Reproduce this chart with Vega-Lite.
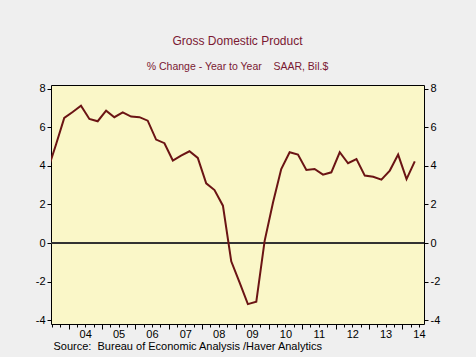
{
  "$schema": "https://vega.github.io/schema/vega-lite/v6.json",
  "autosize": "none",
  "width": 373,
  "height": 239,
  "padding": {"left": 51, "top": 85, "right": 52, "bottom": 33},
  "background": "#efefef",
  "config": {
    "view": {"fill": "#faf7c8", "stroke": "#000000", "strokeWidth": 1},
    "font": "Liberation Sans"
  },
  "title": {
    "text": "Gross Domestic Product",
    "subtitle": "% Change - Year to Year\u00a0\u00a0\u00a0\u00a0SAAR, Bil.$",
    "anchor": "middle",
    "color": "#7a1832",
    "subtitleColor": "#7a1832",
    "font": "Liberation Sans",
    "subtitleFont": "Liberation Sans",
    "fontSize": 12,
    "fontWeight": "normal",
    "subtitleFontSize": 10.5,
    "subtitleFontWeight": "normal",
    "subtitlePadding": 14,
    "offset": 9
  },
  "data": {
    "values": [
      {"date": "2003-05-16", "value": 3.75},
      {"date": "2003-08-16", "value": 5.1},
      {"date": "2003-11-15", "value": 6.49},
      {"date": "2004-02-15", "value": 6.8},
      {"date": "2004-05-16", "value": 7.13},
      {"date": "2004-08-16", "value": 6.44},
      {"date": "2004-11-15", "value": 6.32},
      {"date": "2005-02-15", "value": 6.87},
      {"date": "2005-05-16", "value": 6.53},
      {"date": "2005-08-16", "value": 6.78},
      {"date": "2005-11-15", "value": 6.56},
      {"date": "2006-02-15", "value": 6.53},
      {"date": "2006-05-16", "value": 6.35},
      {"date": "2006-08-16", "value": 5.37},
      {"date": "2006-11-15", "value": 5.18},
      {"date": "2007-02-15", "value": 4.28},
      {"date": "2007-05-16", "value": 4.54},
      {"date": "2007-08-16", "value": 4.76},
      {"date": "2007-11-15", "value": 4.42},
      {"date": "2008-02-15", "value": 3.1},
      {"date": "2008-05-16", "value": 2.75},
      {"date": "2008-08-16", "value": 1.94},
      {"date": "2008-11-15", "value": -0.95},
      {"date": "2009-02-15", "value": -2.05},
      {"date": "2009-05-16", "value": -3.17},
      {"date": "2009-08-16", "value": -3.05},
      {"date": "2009-11-15", "value": 0.1},
      {"date": "2010-02-15", "value": 2.1},
      {"date": "2010-05-16", "value": 3.84},
      {"date": "2010-08-16", "value": 4.71},
      {"date": "2010-11-15", "value": 4.59},
      {"date": "2011-02-15", "value": 3.79},
      {"date": "2011-05-16", "value": 3.84},
      {"date": "2011-08-16", "value": 3.55},
      {"date": "2011-11-15", "value": 3.67},
      {"date": "2012-02-15", "value": 4.71},
      {"date": "2012-05-16", "value": 4.14},
      {"date": "2012-08-16", "value": 4.36},
      {"date": "2012-11-15", "value": 3.5},
      {"date": "2013-02-15", "value": 3.44},
      {"date": "2013-05-16", "value": 3.29},
      {"date": "2013-08-16", "value": 3.76},
      {"date": "2013-11-15", "value": 4.59},
      {"date": "2014-02-15", "value": 3.32},
      {"date": "2014-05-16", "value": 4.24}
    ]
  },
  "layer": [
    {
      "mark": {"type": "rule", "color": "#333333", "strokeWidth": 0.7},
      "encoding": {
        "y": {
          "datum": 0,
          "type": "quantitative",
          "scale": {"domain": [-4.2, 8.2], "nice": false, "zero": false},
          "axis": {
            "orient": "right",
            "title": null,
            "values": [-4, -2, 0, 2, 4, 6, 8],
            "labelExpr": "datum.value + ''",
            "domain": false,
            "grid": false,
            "tickColor": "#000000",
            "tickSize": 4,
            "labelPadding": 2,
            "labelColor": "#000000",
            "labelFontSize": 11,
            "labelFont": "Liberation Sans"
          }
        }
      }
    },
    {
      "mark": {"type": "line", "color": "#6b1414", "strokeWidth": 2, "clip": true},
      "encoding": {
        "x": {
          "field": "date",
          "type": "temporal",
          "scale": {"domain": ["2003-06-23", "2014-08-25"], "nice": false},
          "axis": {
            "orient": "bottom",
            "title": "Source:\u00a0\u00a0Bureau of Economic Analysis /Haver Analytics",
            "titleFont": "Liberation Sans",
            "titleFontSize": 11,
            "titleFontWeight": "normal",
            "titleColor": "#000000",
            "titleAnchor": "start",
            "titleAlign": "left",
            "titleBaseline": "alphabetic",
            "titleX": 2,
            "titleY": 25,
            "domain": false,
            "grid": false,
            "values": ["2003-07-01","2003-10-01","2004-01-01","2004-04-01","2004-07-01","2004-10-01","2005-01-01","2005-04-01","2005-07-01","2005-10-01","2006-01-01","2006-04-01","2006-07-01","2006-10-01","2007-01-01","2007-04-01","2007-07-01","2007-10-01","2008-01-01","2008-04-01","2008-07-01","2008-10-01","2009-01-01","2009-04-01","2009-07-01","2009-10-01","2010-01-01","2010-04-01","2010-07-01","2010-10-01","2011-01-01","2011-04-01","2011-07-01","2011-10-01","2012-01-01","2012-04-01","2012-07-01","2012-10-01","2013-01-01","2013-04-01","2013-07-01","2013-10-01","2014-01-01","2014-04-01","2014-07-01"],
            "tickColor": "#000000",
            "tickSize": {"condition": {"test": "month(datum.value) == 0", "value": 5}, "value": 3},
            "labelExpr": "month(datum.value) == 6 && year(datum.value) >= 2004 ? timeFormat(datum.value, '%y') : ''",
            "labelFont": "Liberation Sans",
            "labelFontSize": 11,
            "labelColor": "#000000",
            "labelPadding": 1,
            "labelOverlap": false,
            "labelFlush": false
          }
        },
        "y": {
          "field": "value",
          "type": "quantitative",
          "scale": {"domain": [-4.2, 8.2], "nice": false, "zero": false},
          "axis": {
            "orient": "left",
            "title": null,
            "values": [-4, -2, 0, 2, 4, 6, 8],
            "labelExpr": "datum.value + ''",
            "domain": false,
            "grid": false,
            "tickColor": "#000000",
            "tickSize": 4,
            "labelPadding": 2,
            "labelColor": "#000000",
            "labelFontSize": 11,
            "labelFont": "Liberation Sans"
          }
        }
      }
    }
  ],
  "resolve": {"axis": {"y": "independent"}}
}
